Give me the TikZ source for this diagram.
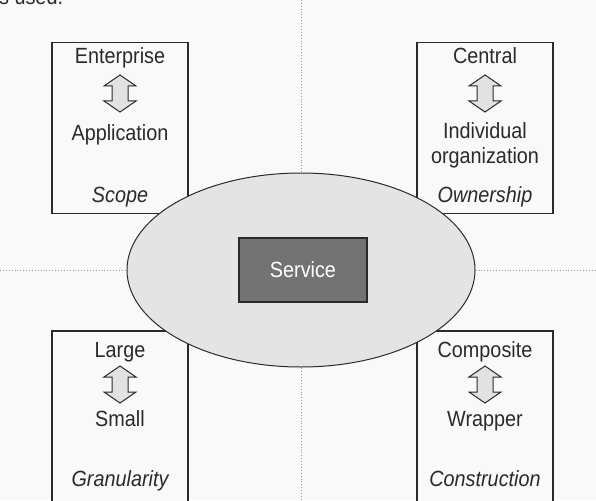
\documentclass[tikz,border=0pt]{standalone}
\usepackage{fontspec}
\setmainfont{Liberation Sans}[FakeStretch=0.9]
\usepackage{xcolor}
\usepackage{tikz}
\usetikzlibrary{positioning,shapes.geometric}
\definecolor{pagebg}{HTML}{F9F9F9}
\definecolor{inkgray}{HTML}{2A2A2A}
\definecolor{coregray}{HTML}{E4E4E4}
\definecolor{servicegray}{HTML}{737373}
\definecolor{arrowgray}{HTML}{E2E2E2}
\tikzstyle{facet} = [rectangle, draw=inkgray, line width=1.1pt, fill=pagebg, minimum width=136pt, minimum height=171pt, inner sep=0pt]
\tikzstyle{pole} = [anchor=base, text=inkgray, font=\fontsize{22}{26}\selectfont, inner sep=0pt]
\tikzstyle{facetname} = [pole, font=\fontsize{22}{26}\selectfont\itshape]
\tikzstyle{guide} = [draw=gray!80, dotted, line width=0.9pt]
\tikzstyle{core} = [ellipse, draw=inkgray, line width=1pt, fill=coregray, minimum width=348pt, minimum height=194pt, inner sep=0pt]
\tikzstyle{service} = [rectangle, draw=inkgray, line width=1.1pt, fill=servicegray, text=white, font=\fontsize{22}{26}\selectfont, minimum width=128pt, minimum height=64pt]
\tikzset{
    swaparrow/.pic={
        \draw [fill=arrowgray, draw=inkgray, line width=1pt, line join=miter]
            (0,-18.5) -- (16,-7.5) -- (8,-7.5) -- (8,7.5) -- (16,7.5) -- (0,18.5)
            -- (-16,7.5) -- (-8,7.5) -- (-8,-7.5) -- (-16,-7.5) -- cycle;
    }
}

\begin{document}
\begin{tikzpicture}[x=1pt, y=-1pt]
          \fill [pagebg] (0,0) rectangle (596,500);
          \useasboundingbox (0,0) rectangle (596,500);
          % text running on from the page above
          \node (spill) [pole, anchor=base west] at (-1,5) {s used.};
          % quadrant guides
          \coordinate (topmid) at (301,0);
          \coordinate (botmid) at (301,500);
          \coordinate (leftmid) at (0,270);
          \coordinate (rightmid) at (596,270);
          \draw [guide] (topmid) -- (botmid);
          \draw [guide] (leftmid) -- (rightmid);
          % the four facets
          \node (scope) [facet] at (120,128) {};
          \node (owner) [facet] at (485,128) {};
          \node (gran) [facet, minimum height=189pt] at (120,425.5) {};
          \node (constr) [facet, minimum height=189pt] at (485,425.5) {};
          \node (enterprise) [pole] at (120,64) {Enterprise};
          \pic at (120,93.5) {swaparrow};
          \node (application) [pole] at (120,140) {Application};
          \node (scopename) [facetname] at (120,202) {Scope};
          \node (central) [pole] at (485,64) {Central};
          \pic at (485,93.5) {swaparrow};
          \node (individual) [pole] at (485,138) {Individual};
          \node (organization) [pole] at (485,163) {organization};
          \node (ownername) [facetname] at (485,202) {Ownership};
          \node (large) [pole] at (120,357) {Large};
          \pic at (120,384.5) {swaparrow};
          \node (small) [pole] at (120,426) {Small};
          \node (granname) [facetname] at (120,486) {Granularity};
          \node (composite) [pole] at (485,357) {Composite};
          \pic at (485,384.5) {swaparrow};
          \node (wrapper) [pole] at (485,426) {Wrapper};
          \node (constrname) [facetname] at (485,486) {Construction};
          % service in the middle
          \node (hull) [core] at (301,270) {};
          \node (svc) [service] at (303,270) {Service};
        \end{tikzpicture}
\end{document}
